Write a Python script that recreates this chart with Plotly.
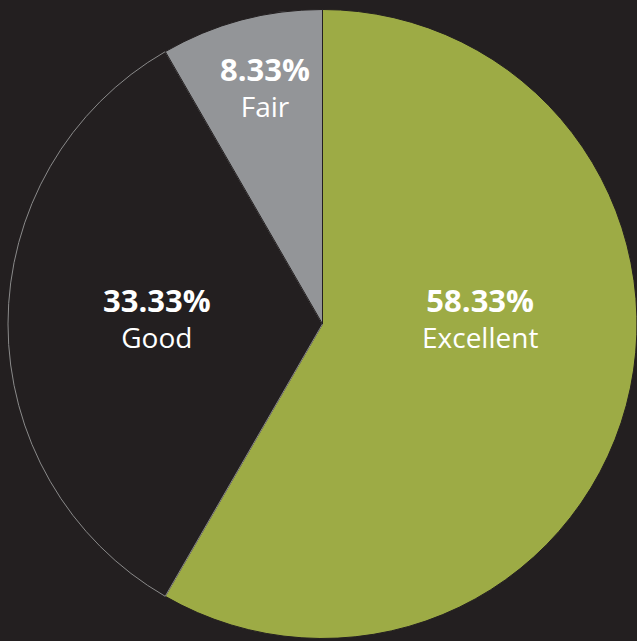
import plotly.graph_objects as go

labels = ["Excellent", "Good", "Fair"]
values = [58.33, 33.33, 8.33]
colors = ["#9dab45", "#231f20", "#939598"]
line_colors = ["#231f20", "#8a8a8a", "#231f20"]

BG = "#231f20"
W, H = 637, 641

fig = go.Figure(
    go.Pie(
        labels=labels,
        values=values,
        sort=False,
        direction="clockwise",
        rotation=0,
        marker=dict(colors=colors, line=dict(color=line_colors, width=1)),
        textinfo="none",
        hoverinfo="label+percent",
        showlegend=False,
        domain=dict(x=[8 / W, 1.0], y=[1 - 638.5 / H, 1 - 9.5 / H]),
    )
)

label_pos = {"Excellent": (480, 317), "Good": (157, 317), "Fair": (265, 87)}
for lab, val in zip(labels, values):
    px, py = label_pos[lab]
    fig.add_annotation(
        x=px / W, y=1 - py / H, xref="paper", yref="paper",
        text=f"<span style='font-size:31px'><b>{val:.2f}%</b></span><br>{lab}",
        showarrow=False, xanchor="center", yanchor="middle",
        font=dict(family="Open Sans", size=28, color="white"),
        align="center",
    )

fig.update_layout(
    width=W, height=H,
    margin=dict(l=0, r=0, t=0, b=0),
    paper_bgcolor=BG, plot_bgcolor=BG,
)

fig.write_html(
    "out.html",
    config={"displayModeBar": False},
    post_script="document.body.style.margin='0';document.body.style.background='#231f20';",
)
